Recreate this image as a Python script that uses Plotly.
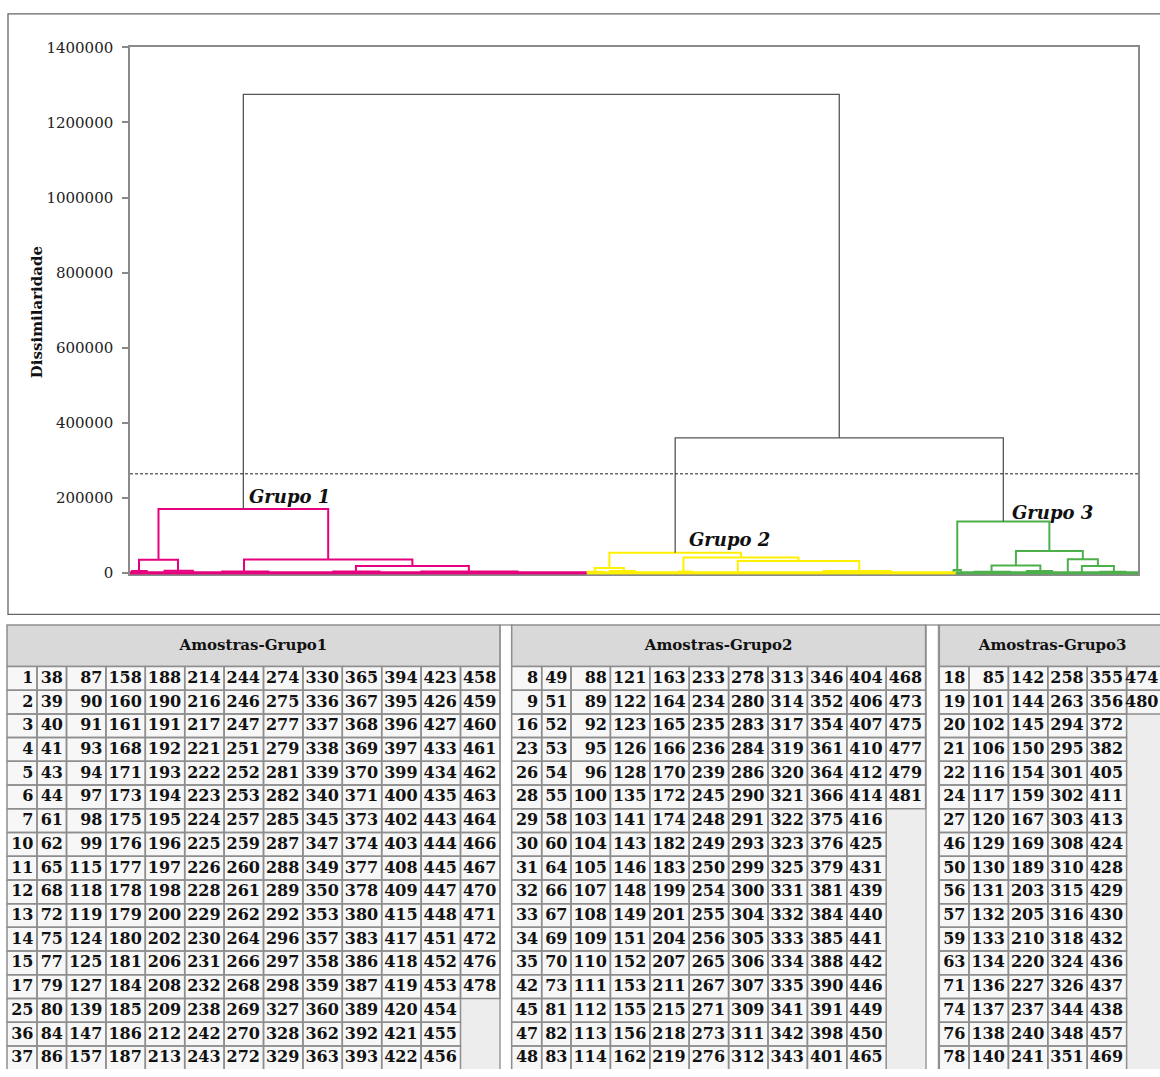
import plotly.graph_objects as go

# ---------------- dendrogram data ----------------
n_leaves = 481
group_names = ["Grupo 1", "Grupo 2", "Grupo 3"]
group_sizes = [218, 176, 87]
group_colors = ["#E6007E", "#FFF000", "#4DB04A"]
link_gray = "#555555"
cut_height = 264000
y_tickvals = [0, 200000, 400000, 600000, 800000, 1000000, 1200000, 1400000]

# low-level cluster anchors: leaf position and merge height
base_x = [4.3, 22.9, 54.4, 107.8, 161.7, 221.8, 235.7, 264.1, 290.0, 348.0,
          393.0, 396.5, 411.1, 434.4, 447.5, 454.2, 469.5]
base_h = [2500, 3500, 3000, 3000, 3000, 3000, 4000, 4000, 3000, 5000,
          3000, 3000, 3000, 4000, 3000, 2000, 3000]
# merges (ids: anchors 0..16, then merges 17.. in order)
merge_left = [0, 3, 2, 17, 5, 8, 7, 21, 10, 12, 15, 14, 26, 25, 24, 20]
merge_right = [1, 4, 18, 19, 6, 9, 22, 23, 11, 13, 16, 27, 28, 29, 30, 31]
merge_h = [35000, 18300, 36000, 170000, 13000, 32000, 41000, 54000,
           8000, 20000, 18300, 36700, 58500, 137000, 360000, 1275000]

# fine structure near the baseline
minor_l = [1.0, 16.5, 44.0, 97.0, 139.0, 150.0, 218.5, 229.0, 262.0, 331.0, 340.0, 403.0, 428.0, 463.0]
minor_r = [8.0, 30.0, 66.0, 119.0, 185.0, 175.0, 226.0, 241.0, 268.0, 363.0, 352.0, 420.0, 440.0, 475.0]
minor_h = [5000, 6000, 4000, 3500, 3500, 2000, 3000, 5000, 4000, 5000, 3000, 3000, 5000, 3000]

label_x = [76, 286, 440]
label_y = [204000, 89000, 160000]

# ---------------- tables ----------------
table_titles = ["Amostras-Grupo1", "Amostras-Grupo2", "Amostras-Grupo3"]
grupo1 = [1, 2, 3, 4, 5, 6, 7, 10, 11, 12, 13, 14, 15, 17, 25, 36, 37,
          38, 39, 40, 41, 43, 44, 61, 62, 65, 68, 72, 75, 77, 79, 80, 84, 86,
          87, 90, 91, 93, 94, 97, 98, 99, 115, 118, 119, 124, 125, 127, 139, 147, 157,
          158, 160, 161, 168, 171, 173, 175, 176, 177, 178, 179, 180, 181, 184, 185, 186, 187,
          188, 190, 191, 192, 193, 194, 195, 196, 197, 198, 200, 202, 206, 208, 209, 212, 213,
          214, 216, 217, 221, 222, 223, 224, 225, 226, 228, 229, 230, 231, 232, 238, 242, 243,
          244, 246, 247, 251, 252, 253, 257, 259, 260, 261, 262, 264, 266, 268, 269, 270, 272,
          274, 275, 277, 279, 281, 282, 285, 287, 288, 289, 292, 296, 297, 298, 327, 328, 329,
          330, 336, 337, 338, 339, 340, 345, 347, 349, 350, 353, 357, 358, 359, 360, 362, 363,
          365, 367, 368, 369, 370, 371, 373, 374, 377, 378, 380, 383, 386, 387, 389, 392, 393,
          394, 395, 396, 397, 399, 400, 402, 403, 408, 409, 415, 417, 418, 419, 420, 421, 422,
          423, 426, 427, 433, 434, 435, 443, 444, 445, 447, 448, 451, 452, 453, 454, 455, 456,
          458, 459, 460, 461, 462, 463, 464, 466, 467, 470, 471, 472, 476, 478]
grupo2 = [8, 9, 16, 23, 26, 28, 29, 30, 31, 32, 33, 34, 35, 42, 45, 47, 48,
          49, 51, 52, 53, 54, 55, 58, 60, 64, 66, 67, 69, 70, 73, 81, 82, 83,
          88, 89, 92, 95, 96, 100, 103, 104, 105, 107, 108, 109, 110, 111, 112, 113, 114,
          121, 122, 123, 126, 128, 135, 141, 143, 146, 148, 149, 151, 152, 153, 155, 156, 162,
          163, 164, 165, 166, 170, 172, 174, 182, 183, 199, 201, 204, 207, 211, 215, 218, 219,
          233, 234, 235, 236, 239, 245, 248, 249, 250, 254, 255, 256, 265, 267, 271, 273, 276,
          278, 280, 283, 284, 286, 290, 291, 293, 299, 300, 304, 305, 306, 307, 309, 311, 312,
          313, 314, 317, 319, 320, 321, 322, 323, 325, 331, 332, 333, 334, 335, 341, 342, 343,
          346, 352, 354, 361, 364, 366, 375, 376, 379, 381, 384, 385, 388, 390, 391, 398, 401,
          404, 406, 407, 410, 412, 414, 416, 425, 431, 439, 440, 441, 442, 446, 449, 450, 465,
          468, 473, 475, 477, 479, 481]
grupo3 = [18, 19, 20, 21, 22, 24, 27, 46, 50, 56, 57, 59, 63, 71, 74, 76, 78,
          85, 101, 102, 106, 116, 117, 120, 129, 130, 131, 132, 133, 134, 136, 137, 138, 140,
          142, 144, 145, 150, 154, 159, 167, 169, 189, 203, 205, 210, 220, 227, 237, 240, 241,
          258, 263, 294, 295, 301, 302, 303, 308, 310, 315, 316, 318, 324, 326, 344, 348, 351,
          355, 356, 372, 382, 405, 411, 413, 424, 428, 429, 430, 432, 436, 437, 438, 457, 469,
          474, 480]
groups_samples = [grupo1, grupo2, grupo3]

# ---------------- layout constants (pixels) ----------------
W, H = 1160, 1077
ROWS = 17
table_x0 = [7.0, 511.7, 939.3]
table_colw = [[30.0, 29.5] + [39.4] * 11,
              [30.0, 29.3] + [39.4] * 9,
              [29.7] + [39.4] * 5]
separators = [(500.0, 511.7), (926.0, 938.5)]
TAB_TOP, HEAD_H, ROW_H = 626.0, 42.0, 24.1
TEXT_PAD = 3.5
FRAME = "#8a8a8a"
GRID = "#8e8e8e"
SERIF = "DejaVu Serif"


def py(p):
    return 1 - p / H


def px(p):
    return p / W


bounds = [0]
for s in group_sizes:
    bounds.append(bounds[-1] + s)


def group_of(x):
    for i in range(len(group_sizes)):
        if bounds[i] <= x < bounds[i + 1]:
            return i
    return len(group_sizes) - 1


fig = go.Figure()

# baselines (dense low-level merges)
for i, c in enumerate(group_colors):
    fig.add_trace(go.Scatter(x=[bounds[i], bounds[i + 1]], y=[0, 0], mode="lines",
                             line=dict(color=c, width=3.5), hoverinfo="skip"))

paths = {c: ([], []) for c in group_colors + [link_gray]}

for l, r, h in zip(minor_l, minor_r, minor_h):
    c = group_colors[group_of((l + r) / 2)]
    paths[c][0].extend([l, l, r, r, None])
    paths[c][1].extend([0, h, h, 0, None])

node_x = list(base_x)
node_h = list(base_h)
for l, r, h in zip(merge_left, merge_right, merge_h):
    xl, xr, hl, hr = node_x[l], node_x[r], node_h[l], node_h[r]
    xm = (xl + xr) / 2
    c = link_gray if h > cut_height else group_colors[group_of(xm)]
    paths[c][0].extend([xl, xl, xr, xr, None])
    paths[c][1].extend([hl, h, h, hr, None])
    node_x.append(xm)
    node_h.append(h)

for c, (xs, ys) in paths.items():
    fig.add_trace(go.Scatter(x=xs, y=ys, mode="lines",
                             line=dict(color=c, width=1.3 if c == link_gray else 2.0),
                             hoverinfo="skip"))

# cut line
fig.add_trace(go.Scatter(x=[0, n_leaves], y=[cut_height, cut_height], mode="lines",
                         line=dict(color="#222", width=1, dash="3px,2px"), hoverinfo="skip"))

# ---------------- tables ----------------
shapes = []
# chart outer box
shapes.append(dict(type="rect", xref="paper", yref="paper", x0=px(8), x1=px(1175),
                   y0=py(615), y1=py(5), line=dict(color="#666", width=1.3)))
# table area background
shapes.append(dict(type="rect", xref="x2", yref="y2", x0=table_x0[0], x1=1175,
                   y0=TAB_TOP, y1=H + 10, fillcolor="#EDEDED", line=dict(width=0), layer="below"))
for a, b in separators:
    shapes.append(dict(type="rect", xref="x2", yref="y2", x0=a, x1=b, y0=TAB_TOP, y1=H + 10,
                       fillcolor="white", line=dict(color="#9a9a9a", width=1.5), layer="below"))

for t, samples in enumerate(groups_samples):
    cols = [samples[i:i + ROWS] for i in range(0, len(samples), ROWS)]
    edges = [table_x0[t]]
    for w in table_colw[t]:
        edges.append(edges[-1] + w)
    body_top = TAB_TOP + HEAD_H
    # header
    shapes.append(dict(type="rect", xref="x2", yref="y2", x0=edges[0], x1=edges[-1],
                       y0=TAB_TOP, y1=body_top, fillcolor="#D9D9D9",
                       line=dict(color=GRID, width=1.5), layer="below"))
    gx, gy, tx, ty, tt = [], [], [], [], []
    for c, col in enumerate(cols):
        x0, x1 = edges[c], edges[c + 1]
        shapes.append(dict(type="rect", xref="x2", yref="y2", x0=x0, x1=x1,
                           y0=body_top, y1=body_top + len(col) * ROW_H,
                           fillcolor="#F7F7F7", line=dict(width=0), layer="below"))
        for r, v in enumerate(col):
            y0 = body_top + r * ROW_H
            y1 = y0 + ROW_H
            gx.extend([x0, x1, x1, x0, x0, None])
            gy.extend([y0, y0, y1, y1, y0, None])
            tx.append(min(x1 - TEXT_PAD, W - 1.5))
            ty.append((y0 + y1) / 2 + 0.5)
            tt.append(f"<b>{v}</b>")
    fig.add_trace(go.Scatter(x=gx, y=gy, mode="lines", xaxis="x2", yaxis="y2",
                             line=dict(color=GRID, width=1.5), hoverinfo="skip"))
    fig.add_trace(go.Scatter(x=tx, y=ty, text=tt, mode="text", xaxis="x2", yaxis="y2",
                             textposition="middle left",
                             textfont=dict(family=SERIF, size=16, color="#111"),
                             hoverinfo="skip"))
    fig.add_trace(go.Scatter(x=[(edges[0] + edges[-1]) / 2], y=[TAB_TOP + HEAD_H / 2],
                             text=[f"<b>{table_titles[t]}</b>"], mode="text",
                             xaxis="x2", yaxis="y2", textposition="middle center",
                             textfont=dict(family=SERIF, size=15, color="#111"),
                             hoverinfo="skip"))

annotations = [dict(text="<b>Dissimilaridade</b>", xref="paper", yref="paper",
                    x=px(37), y=py(308), xanchor="center", yanchor="middle",
                    textangle=-90, showarrow=False,
                    font=dict(family=SERIF, size=15, color="#111"))]
for name, lx, ly in zip(group_names, label_x, label_y):
    annotations.append(dict(text=f"<b><i>{name}</i></b>", x=lx, y=ly, xref="x", yref="y",
                            xanchor="center", yanchor="middle",
                            showarrow=False, font=dict(family=SERIF, size=18, color="#111")))

fig.update_layout(
    width=W, height=H, margin=dict(l=0, r=0, t=0, b=0),
    paper_bgcolor="white", plot_bgcolor="white", showlegend=False,
    xaxis=dict(domain=[px(130), px(1138)], range=[0, n_leaves], showticklabels=False,
               ticks="", showgrid=False, zeroline=False, showline=True, mirror=True,
               linecolor=FRAME, linewidth=1.5, layer="below traces"),
    yaxis=dict(domain=[py(574.5), py(39)], range=[-4000, 1400000], tickvals=y_tickvals,
               ticktext=[str(v) for v in y_tickvals], ticks="outside", ticklen=6,
               tickcolor=FRAME, tickwidth=1.5, showline=True, mirror=True,
               linecolor=FRAME, linewidth=1.5, showgrid=False, zeroline=False,
               ticklabelstandoff=6,
               tickfont=dict(family=SERIF, size=15, color="#222")),
    xaxis2=dict(domain=[0, 1], range=[0, W], visible=False, anchor="y2"),
    yaxis2=dict(domain=[0, py(615)], range=[H, 615], visible=False, anchor="x2"),
    shapes=shapes, annotations=annotations,
)

fig.write_html("out.html")
